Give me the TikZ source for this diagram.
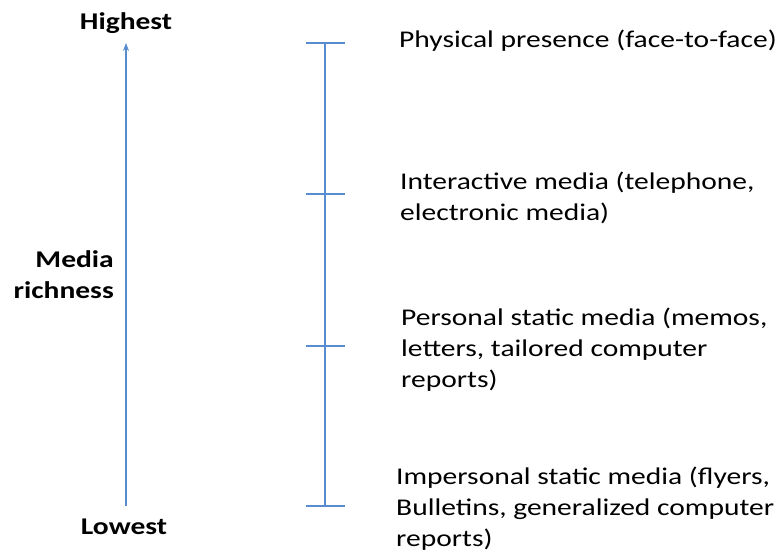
\documentclass[tikz,border=0pt]{standalone}
\usepackage{fontspec}
\usepackage{graphicx}
\setmainfont{Carlito}
\usetikzlibrary{arrows.meta}
\definecolor{scaleblue}{RGB}{88,140,206}
% text is set slightly widened
\newcommand{\widetext}[2][l]{\scalebox{1.23}[1]{\begin{tabular}{@{}#1@{}}#2\end{tabular}}}
\begin{document}
\begin{tikzpicture}[x=1pt,y=-1pt,
  scale line/.style={draw=scaleblue, line width=1.1pt},
  endlabel/.style={font=\fontsize{24}{31}\selectfont\bfseries, inner sep=0pt},
  level/.style={font=\fontsize{24}{31}\selectfont, anchor=west, inner sep=0pt},
  tick/.style={draw=scaleblue, line width=1.1pt}]
\useasboundingbox (0,0) rectangle (782,552);
% left axis: media richness, lowest to highest
\coordinate (axbot) at (126,506);
\coordinate (axtop) at (126,43);
\draw[scale line, -{Stealth[length=8pt,width=6pt]}] (axbot) -- (axtop);
\node[endlabel] (high) at (126,23) {\widetext{Highest}};
\node[endlabel] (low) at (124,528) {\widetext{Lowest}};
\node[endlabel, anchor=east] (rich) at (114,277) {\widetext[r]{Media\\richness}};
% right scale with ticks at each media level
\coordinate (t1) at (325,43);
\coordinate (t2) at (325,194);
\coordinate (t3) at (325,346);
\coordinate (t4) at (325,506);
\draw[scale line] (t1) -- (t4);
\foreach \t in {t1,t2,t3,t4}
  \draw[tick] ([xshift=-19pt]\t) -- ([xshift=20pt]\t);
% level descriptions
\node[level] (l1) at (399,41) {\widetext{Physical presence (face-to-face)}};
\node[level] (l2) at (400,199) {\widetext{Interactive media (telephone,\\electronic media)}};
\node[level] (l3) at (401,350) {\widetext{Personal static media (memos,\\letters, tailored computer\\reports)}};
\node[level] (l4) at (396,509) {\widetext{Impersonal static media (flyers,\\Bulletins, generalized computer\\reports)}};
\end{tikzpicture}
\end{document}
